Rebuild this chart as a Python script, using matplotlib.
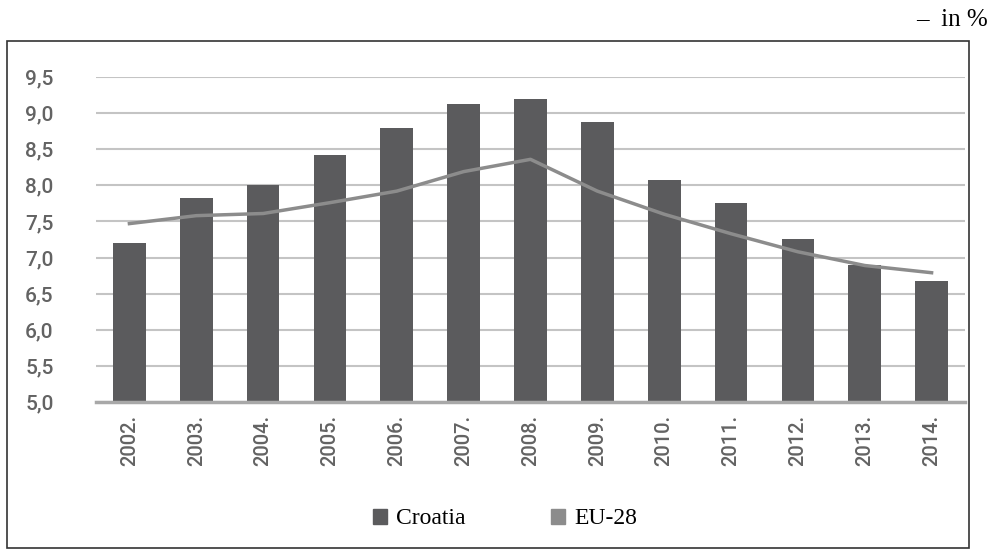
import numpy as np
import matplotlib.pyplot as plt
from matplotlib.patches import Patch, Rectangle

# Unemployment-like rates, Croatia vs EU-28
years = ['2002.', '2003.', '2004.', '2005.', '2006.', '2007.', '2008.',
         '2009.', '2010.', '2011.', '2012.', '2013.', '2014.']
croatia = [7.2, 7.82, 8.0, 8.42, 8.8, 9.12, 9.2, 8.88, 8.08, 7.76, 7.26, 6.9, 6.68]
eu28 = [7.47, 7.58, 7.61, 7.76, 7.92, 8.19, 8.36, 7.92, 7.6, 7.33, 7.08, 6.89, 6.79]
y_ticks = [5.0, 5.5, 6.0, 6.5, 7.0, 7.5, 8.0, 8.5, 9.0, 9.5]
y_labels = ['5,0', '5,5', '6,0', '6,5', '7,0', '7,5', '8,0', '8,5', '9,0', '9,5']

BAR_COLOR = '#5b5b5d'
LINE_COLOR = '#8c8c8c'
GRID_COLOR = '#c4c4c4'
TICK_COLOR = '#636363'

W, H = 995, 552
fig = plt.figure(figsize=(W / 100, H / 100), dpi=100)
ax = fig.add_axes([96 / W, 1 - 402 / H, (965 - 96) / W, (402 - 77) / H])

x = np.arange(len(years))
ax.bar(x, croatia, width=0.49, color=BAR_COLOR, zorder=3)
ax.plot(x, eu28, color=LINE_COLOR, linewidth=2.5, zorder=4)

ax.set_xlim(-0.5, len(years) - 0.5)
ax.set_ylim(5.0, 9.5)
ax.set_yticks(y_ticks)
ax.set_yticklabels(y_labels)
ax.set_xticks(x)
ax.set_xticklabels(years, rotation=90)
ax.tick_params(axis='both', length=0, colors=TICK_COLOR)
ax.tick_params(axis='y', pad=51, labelsize=15)
ax.tick_params(axis='x', pad=9, labelsize=14.5)
for lbl in ax.get_yticklabels() + ax.get_xticklabels():
    lbl.set_family('Roboto')
    lbl.set_fontweight('medium')
for lbl in ax.get_yticklabels():
    lbl.set_horizontalalignment('left')

ax.yaxis.grid(True, color=GRID_COLOR, linewidth=1.5, zorder=0)
for side in ['top', 'right', 'left']:
    ax.spines[side].set_visible(False)
ax.spines['bottom'].set_color('#a8a8a8')
ax.spines['bottom'].set_linewidth(2.5)
ax.spines['bottom'].set_zorder(5)

# frame round the whole chart
fig.patches.append(Rectangle((7 / W, 1 - 548 / H), (969 - 7) / W, (548 - 41) / H,
                             transform=fig.transFigure, fill=False,
                             edgecolor='#333333', linewidth=1.2))

handles = [Patch(color=BAR_COLOR, label='Croatia'),
           Patch(color=LINE_COLOR, label='EU-28')]
fig.legend(handles=handles, loc='center', bbox_to_anchor=(505 / W, 1 - 519 / H),
           ncol=2, frameon=False, handlelength=0.6, handleheight=0.6,
           handletextpad=0.4, columnspacing=3.6,
           prop={'family': 'Liberation Serif', 'size': 17})

fig.text(988 / W, 1 - 20 / H, '–  in %', ha='right', va='center',
         family='Liberation Serif', fontsize=18)

fig.savefig('out.png', dpi=100)
